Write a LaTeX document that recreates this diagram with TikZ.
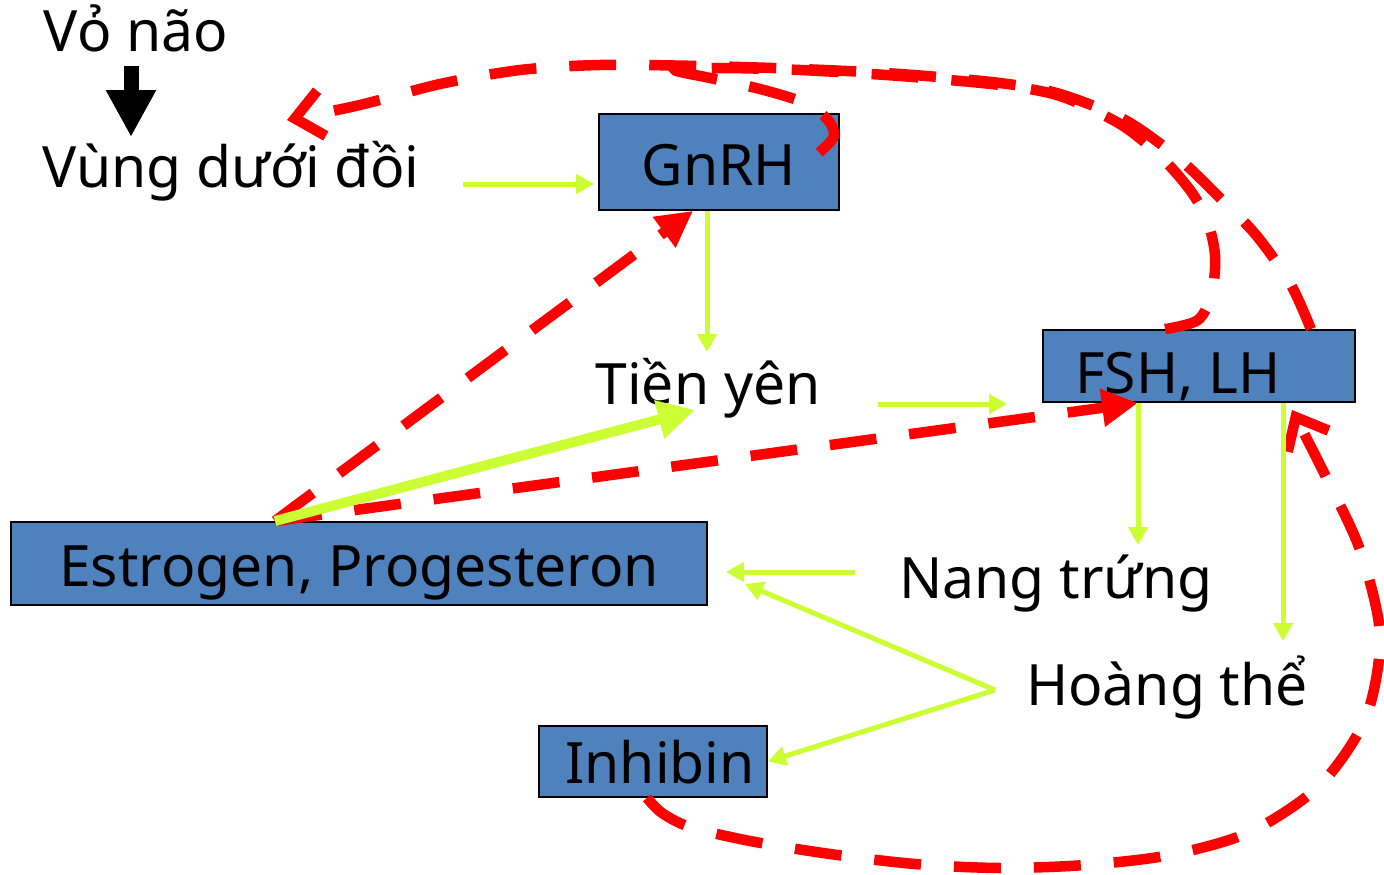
\documentclass[tikz,border=0pt]{standalone}
\usepackage{fontspec}
\setmainfont{Noto Sans}
\usetikzlibrary{arrows.meta,calc}
\definecolor{boxblue}{RGB}{79,129,189}
\definecolor{limeg}{RGB}{204,255,51}
\definecolor{rred}{RGB}{255,0,0}
\begin{document}
\begin{tikzpicture}[x=1pt,y=-1pt,
  font=\fontsize{57}{62}\selectfont,
  lbl/.style={inner sep=0pt, anchor=base},
  box/.style={draw=black, line width=1.8pt, fill=boxblue, inner sep=0pt, text depth=0pt},
  blockarrow/.style={draw=black, line width=15pt, -{Triangle[width=47pt,length=47pt]}},
  garrow/.style={draw=limeg, line width=5pt, -{Triangle[width=19pt,length=18pt]}},
  gthick/.style={draw=limeg, line width=10pt, -{Triangle[width=37pt,length=37pt]}},
  rdash/.style={draw=rred, line width=10.5pt, dash pattern=on 47pt off 33pt},
  rtri/.style={rdash, -{Triangle[width=36pt,length=36pt]}},
  rbarb/.style={rdash, -{Straight Barb[length=27pt,width=46pt]}}
]
\useasboundingbox (0,0) rectangle (1384,875);

% boxes
\node[box, minimum width=240pt, minimum height=96pt, text height=46pt] (gnrh) at (719,162) {GnRH};
\node[box, minimum width=312pt, minimum height=72pt, text height=54pt] (fsh) at (1199,366) {FSH, LH\hspace*{42pt}};
\node[box, minimum width=696pt, minimum height=83pt, text height=46pt] (estr) at (359,563.5) {Estrogen, Progesteron};
\node[box, minimum width=228pt, minimum height=71pt, text height=43pt] (inh) at (653,761.5) {\hspace*{14pt}Inhibin};

% labels
\node[lbl] (vo) at (136,52) {Vỏ não};
\node[lbl] (vung) at (231,187) {Vùng dưới đồi};
\node[lbl] (tien) at (708,404) {Tiền yên};
\node[lbl] (nang) at (1056,598) {Nang trứng};
\node[lbl] (hoang) at (1167,705) {Hoàng thể};

% coordinates
\coordinate (k1) at (131,66);
\coordinate (k2) at (131,137);
\coordinate (vungR) at (463,184);
\coordinate (tienT) at (707,352);
\coordinate (tienR) at (878,404);
\coordinate (tienA) at (695,410);
\coordinate (nangT) at (1138,545);
\coordinate (nangL) at (855,572);
\coordinate (hoangT) at (1283,641);
\coordinate (hoangL) at (995,690);
\coordinate (estrR) at (745,584);
\coordinate (eT) at (275,521);
\coordinate (aS) at ([xshift=-45pt]fsh.north east);
\coordinate (aE) at (287,120);
\coordinate (bS) at ([xshift=-34pt]fsh.north);
\coordinate (bE) at (807,163);
\coordinate (cS) at ([xshift=-6pt]inh.south);
\coordinate (cE) at (1292,410);

% black block arrow
\draw[blockarrow] (k1) -- (k2);

% red dashed feedback
\draw[rtri] (eT) -- ([xshift=-26pt]gnrh.south);
\draw[rtri] (eT) -- ([xshift=-61pt]fsh.south);
\draw[rbarb] plot[smooth] coordinates {(aS) (1290,283) (1256,235) (1217,195) (1177,157) (1125,120) (1060,94) (1000,83) (900,74) (800,69) (700,66) (600,65) (520,70) (440,84) (360,105) (aE)};
\draw[rdash] plot[smooth] coordinates {(bS) (1198,320) (1212,293) (1215,255) (1207,220) (1190,190) (1160,156) (1120,124) (1060,96) (1000,85) (900,76) (800,70) (720,68) (675,70) (710,78) (760,89) (805,103) (828,120) (834,136) (822,150) (bE)};
\draw[rbarb] plot[smooth] coordinates {(cS) (662,813) (690,827) (750,841) (830,854) (915,864) (1000,868) (1085,865) (1170,855) (1250,832) (1320,785) (1366,717) (1380,635) (1360,550) (1325,475) (cE)};

% green arrows
\draw[garrow] (vungR) -- ([xshift=-4pt]gnrh.west |- vungR);
\draw[garrow] (gnrh.south -| tienT) -- (tienT);
\draw[garrow, shorten >=35pt] (tienR) -- (tienR -| fsh.west);
\draw[garrow] (fsh.south -| nangT) -- (nangT);
\draw[garrow] (fsh.south -| hoangT) -- (hoangT);
\draw[garrow] (nangL) -- ([xshift=18pt]estr.east |- nangL);
\draw[garrow] (hoangL) -- (estrR);
\draw[garrow] (hoangL) -- (inh.east);
\draw[gthick] (eT) -- (tienA);
\end{tikzpicture}
\end{document}
